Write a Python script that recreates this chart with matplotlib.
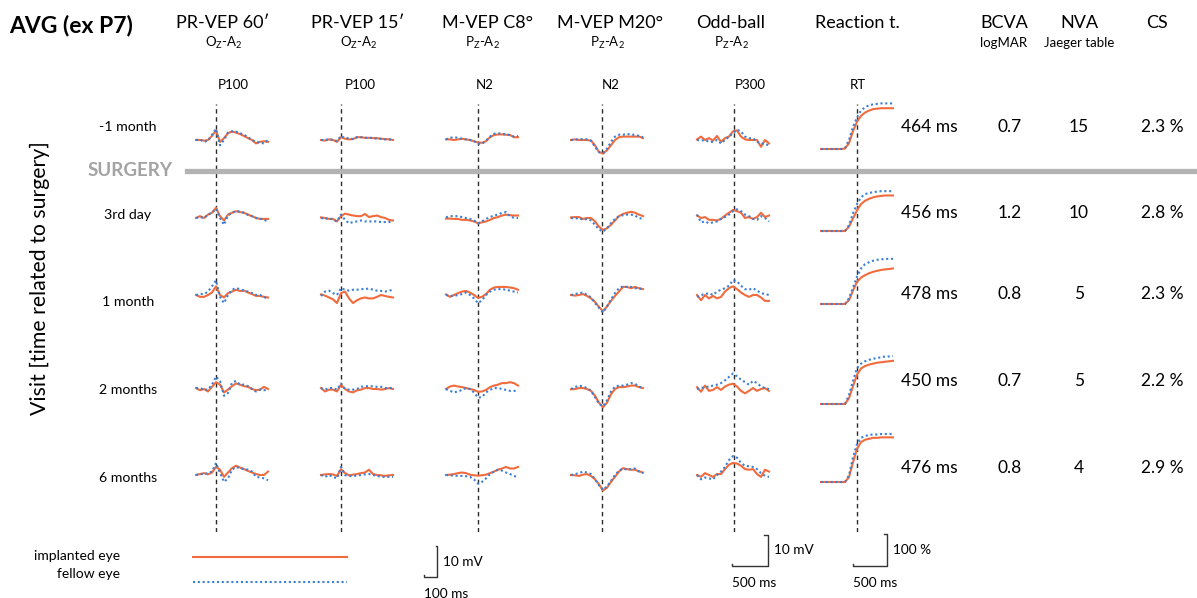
import numpy as np
import matplotlib.pyplot as plt
from matplotlib.lines import Line2D

plt.rcParams['font.family'] = ['Lato', 'DejaVu Sans']
plt.rcParams['mathtext.default'] = 'regular'

# ---------------- data ----------------
visits = ['-1 month', '3rd day', '1 month', '2 months', '6 months']
tests = ['PR-VEP 60′', 'PR-VEP 15′', 'M-VEP C8°', 'M-VEP M20°', 'Odd-ball', 'Reaction t.']
leads = ['O$_Z$-A$_2$', 'O$_Z$-A$_2$', 'P$_Z$-A$_2$', 'P$_Z$-A$_2$', 'P$_Z$-A$_2$', '']
peaks = ['P100', 'P100', 'N2', 'N2', 'P300', 'RT']
latency_ms = [100, 100, 190, 185, 320, 464]

# sampling grids (ms)
t_vep = np.arange(-50, 491, 30)
t_odd = np.arange(-200, 809, 56)
t_rt = np.arange(-60, 985, 58)

# amplitudes in mV, one list per visit
prvep60_implanted = [
    [0, 0, -0.2, 0, 1.3, 3.1, -0.6, 0.6, 2.2, 2.7, 2.4, 1.9, 1.3, 0.6, 0, -1.1, -0.6, -0.4, -0.6],
    [0, 0.6, 0, 1.1, 1.7, 3.3, 0.6, -0.8, 1.1, 1.7, 2.2, 1.9, 1.7, 1.1, 0.6, 0, -0.3, -0.3, -0.3],
    [0, -0.6, -0.6, 0, 0.8, 2.8, 0, -0.8, 0.6, 1.1, 1.7, 1.3, 1.4, 0.8, 0.3, -0.3, -0.3, -0.6, -0.8],
    [0.3, -0.4, 0, -0.8, 0.7, 2.2, 1.4, -1.1, -0.2, 0.9, 1.8, 1.4, 0.9, 0.7, 0, -0.4, -0.2, 0.7, 0],
    [0, 0.3, 0.6, 0.2, 0.8, 2.6, 1.7, -0.6, 0.8, 2.2, 3.0, 2.4, 1.9, 1.3, 0.8, 0.3, 0, 0, 1.1],
]
prvep60_fellow = [
    [0, 0.2, -0.6, -0.2, 1.7, 3.6, -1.7, 0, 2.4, 2.8, 2.7, 2.2, 1.7, 0.9, 0, -0.6, -0.9, -1.1, 0],
    [0, 0.3, 0, 1.1, 1.7, 3.0, 0, -2.2, 0.8, 1.7, 2.2, 2.1, 1.7, 1.0, 0.6, 0, -0.2, -0.6, -1.1],
    [0, 0.3, 0.3, 1.1, 2.8, 4.7, -0.6, -2.6, 0, 1.7, 2.2, 1.9, 1.4, 1.1, 0.6, 0, 0, -0.6, -1.4],
    [0.3, 0.3, -0.2, -0.2, 1.4, 4.0, 2.6, -2.2, -1.3, 2.0, 2.6, 1.4, 1.4, 0.9, 0, -0.8, -0.2, -0.4, -0.2],
    [0, 0.3, 0.3, 0.6, 1.1, 3.9, 0.6, -2.2, -1.1, 1.7, 2.6, 2.2, 1.9, 1.7, 1.1, -0.6, -0.8, -1.1, -1.7],
]
prvep15_implanted = [
    [0, -0.2, 0.2, 0, -0.6, 0.9, 0.4, 0.2, 0.3, 0.9, 0.9, 0.7, 0.7, 0.6, 0.6, 0.4, 0.3, 0.2, 0],
    [0.2, 0, -0.3, -0.3, -1.1, 0.6, 1.4, 1.1, 0.8, 0.6, 0.6, 1.3, 0.3, 0.6, 0.8, 0.3, 0, -0.6, -0.8],
    [0.2, -0.2, -0.8, -1.4, -2.6, 0.6, 1.1, -1.1, -2.6, -1.7, -1.1, -0.8, -1.1, -1.1, -0.6, 0, -0.3, -0.6, -0.8],
    [0.3, -0.8, -0.2, -0.2, -0.8, 1.4, 0, -0.8, -1.1, -0.4, -0.2, 0.3, 0.3, 0, 0, -0.2, 0, 0.3, 0],
    [0, 0.2, 0.3, 0.2, -0.3, 1.9, 0.6, -0.1, 0.1, 0.3, 0.6, 0.8, 1.7, 0.3, 0, -0.1, -0.3, -0.1, 0],
]
prvep15_fellow = [
    [0, 0, 0.3, 0, -0.3, 1.3, 0.6, 0.6, 0.3, 0.9, 0.9, 0.7, 0.7, 0.7, 0.4, 0.4, 0.2, 0.2, 0.2],
    [0, -0.3, 0, -0.6, -1.1, 1.1, -0.6, -1.7, -1.3, -1.1, -0.8, -1.1, -1.1, -1.1, -1.1, -1.3, -1.3, -1.3, -1.1],
    [-0.3, 1.1, 1.4, 0.6, 0, 2.2, 1.7, 1.4, 1.7, 1.7, 1.9, 1.9, 2.1, 1.7, 1.4, 1.3, 1.1, 1.4, 1.7],
    [0.3, -0.2, 0.3, 0.3, -0.2, 1.8, 0, -0.2, -0.2, 0, 0.7, 0.9, 0.9, 0.9, 0.7, 0.7, 0.3, 0.3, 0.3],
    [0, -0.6, 0, -0.6, -1.1, 2.6, 0, -0.3, -0.3, -0.2, 0, 0.2, 0.3, 0, -0.3, -0.6, -0.6, -0.6, -0.6],
]
mvep_c8_implanted = [
    [0.2, 0.2, 0, 0.2, 0.4, 0.2, 0, -0.4, -0.8, -0.9, -0.4, 0.9, 1.6, 1.8, 1.8, 1.7, 1.6, 0.9, 0.9],
    [-0.2, -0.2, -0.3, -0.3, -0.6, -0.6, -0.8, -1.1, -1.7, -1.4, -1.1, -0.6, 0, 0.3, 0.8, 1.1, 0.9, 0.8, 0.8],
    [0.2, -0.6, 0, 0.6, 1.1, 1.3, 0.8, 0, -0.9, -0.6, 0.3, 1.7, 2.4, 2.6, 2.6, 2.6, 2.4, 2.2, 1.7],
    [0, 0.8, 1.1, 0.8, 0.6, 0.3, 0, -0.3, -0.9, -0.8, -0.3, 0.6, 1.1, 1.4, 1.9, 1.9, 2.2, 1.9, 1.1],
    [0, 0.1, 0.3, 0.6, 0.8, 0.6, 0.1, -0.1, -0.2, -0.1, 0.1, 0.6, 1.1, 1.7, 2.1, 2.6, 2.1, 2.1, 2.6],
]
mvep_c8_fellow = [
    [0.2, 0.7, 0.9, 0.7, 0.4, 0.2, 0, -0.4, -1.1, -1.3, -0.2, 1.1, 2.0, 2.2, 2.0, 1.8, 1.6, 1.1, 1.3],
    [0.2, 0.6, 0.6, 0.6, 0.3, 0, -0.3, -0.8, -1.7, -1.1, -0.3, 0.3, 0.8, 1.1, 1.7, 1.9, 0.6, 0, 0],
    [0, -0.3, -0.3, 0, 0.3, 0.8, 0, -1.1, -2.6, -1.7, 0, 1.1, 1.7, 1.9, 1.9, 1.7, 1.4, 1.1, 0.8],
    [0, -0.6, -1.1, -0.8, -0.3, 0.3, 0, -1.1, -2.8, -2.6, -1.1, -0.3, 0.3, 0.3, 0, -0.3, -0.6, -0.6, -0.6],
    [0, -0.1, -0.2, -0.3, -0.3, -0.4, -0.6, -1.4, -2.8, -2.2, -1.1, 0.3, 1.1, 1.7, 1.4, 0.8, 0.3, -0.3, -0.8],
]
mvep_m20_implanted = [
    [0, 0.2, 0, 0, 0, -0.2, -1.7, -3.9, -4.4, -3.3, -1.7, 0, 0.9, 1.1, 1.1, 1.1, 1.1, 1.1, 0.6],
    [0.2, 0.3, 0.3, -0.3, 0, 0, -1.1, -2.8, -3.9, -3.3, -2.2, -0.8, 0.6, 1.3, 1.7, 2.0, 1.7, 1.1, 0.6],
    [0, -0.2, 0, 0.3, -0.3, -1.1, -2.2, -3.9, -5.2, -3.7, -1.9, -0.3, 1.1, 2.6, 2.6, 2.2, 2.6, 2.2, 1.9],
    [-0.1, 0, 0.3, 0.3, 0, -0.6, -2.2, -4.4, -5.9, -4.4, -1.7, 0, 0.6, 0.6, 0.8, 1.1, 1.1, 0.6, 0.3],
    [0, -0.1, -0.3, 0.1, 0.3, -0.3, -1.4, -3.0, -5.0, -4.1, -2.2, -0.6, 1.1, 2.2, 1.9, 1.7, 1.7, 1.2, 0.8],
]
mvep_m20_fellow = [
    [0, 0.2, 0.2, 0.3, 0.2, -0.2, -2.2, -3.9, -4.2, -2.8, -0.6, 1.1, 1.7, 1.7, 2.0, 1.7, 1.7, 1.3, 0.9],
    [0, -0.2, 0, -0.6, -0.3, -0.8, -2.2, -3.7, -4.4, -3.3, -1.7, -0.3, 0.6, 0.9, 1.1, 1.1, 0.8, 0, -0.3],
    [0, 0.3, 0.6, 0.8, 0, -0.8, -2.6, -4.1, -5.6, -3.7, -1.4, 0.6, 2.2, 2.8, 2.6, 2.6, 2.2, 2.2, 1.7],
    [0, 0.6, 1.1, 0.8, 0.3, -0.6, -2.6, -4.8, -5.6, -3.7, -0.8, 0.8, 1.1, 1.1, 1.4, 1.9, 1.7, 0.8, 0.3],
    [0, 0.3, 0.6, 1.1, 0.8, 0.3, -1.4, -3.3, -4.8, -3.7, -1.9, 0, 1.4, 2.1, 1.7, 1.9, 2.1, 1.1, 0.6],
]
oddball_implanted = [
    [0.2, 1.1, 0, 0.6, -0.2, 1.3, -0.6, 0.6, 1.1, 2.8, 3.1, 1.1, 0.2, 0, 0, 0, -2.2, 0, -1.1],
    [0.8, 0, 0.3, -0.6, -0.6, -0.8, -0.3, 0.8, 1.7, 2.6, 2.2, 1.7, 0, 0.3, -0.3, 0.3, 1.7, 0.3, 0.8],
    [0, -1.7, 0, -1.1, -0.3, -1.1, -0.6, 1.1, 2.2, 2.8, 1.9, 0.8, 0, -0.6, 0, 0, -0.8, -1.9, -1.9],
    [0.6, -0.9, 1.1, -0.6, -0.3, 0.6, -0.3, 0.8, 1.4, 1.7, 0.8, -0.6, -1.4, -0.6, 0.3, -0.6, 0, 0.3, -0.6],
    [0, -0.6, 0.6, 0, -0.6, 0.3, 0.3, 1.9, 3.3, 3.9, 3.7, 3.0, 1.9, 1.7, 1.9, 0.3, -0.6, 1.7, 1.1],
]
oddball_fellow = [
    [0, -0.2, 0, -0.6, -0.6, 0, -1.1, 0, 1.1, 2.2, 3.3, 2.8, 1.1, 0.6, 0.6, -0.6, -1.1, -1.3, -1.7],
    [1.1, -1.4, -1.1, -1.7, -1.4, -1.1, -0.3, 0.3, 1.1, 2.2, 2.8, 2.2, 1.1, 0.6, -0.3, -0.6, 0.6, 0, -1.1],
    [-0.6, 0, 0.3, 0.6, 0, 1.1, 1.7, 2.2, 3.0, 4.8, 4.4, 3.0, 1.9, 1.7, 2.2, 1.4, 0.6, 0.3, 0],
    [0, 0.3, 0.6, 0.8, 1.1, 1.4, 1.9, 2.8, 3.9, 5.0, 4.1, 3.0, 2.2, 1.4, 2.6, 1.9, 0.8, 0.3, 0],
    [0, -1.4, -0.8, -1.1, -1.4, 0, 1.1, 2.6, 4.8, 6.1, 5.6, 3.9, 3.0, 2.8, 2.6, 1.9, 0.6, -0.3, -0.6],
]
# cumulative reaction-time curves (%)
rt_implanted = [
    [0, 0, 0, 0, 0, 0, 1, 12, 37, 57, 69, 76, 80, 83, 84, 85, 85, 85, 85],
    [0, 0, 0, 0, 0, 0, 0, 9, 26, 43, 56, 63, 67, 70, 72, 73, 74, 74, 74],
    [0, 0, 0, 0, 0, 0, 0, 8, 28, 46, 55, 60, 64, 67, 69, 71, 72, 73, 74],
    [0, 0, 0, 0, 0, 0, 0, 12, 37, 61, 74, 79, 82, 84, 86, 87, 88, 89, 90],
    [0, 0, 0, 0, 0, 0, 0, 10, 41, 69, 83, 88, 90, 92, 92, 93, 93, 93, 93],
]
rt_fellow = [
    [0, 0, 0, 0, 0, 0, 2, 19, 46, 66, 80, 87, 91, 93, 94, 95, 95, 95, 95],
    [0, 0, 0, 0, 0, 0, 0, 12, 37, 56, 70, 77, 79, 81, 82, 83, 83, 83, 83],
    [0, 0, 0, 0, 0, 0, 0, 12, 34, 57, 74, 83, 87, 90, 92, 93, 94, 94, 94],
    [0, 0, 0, 0, 0, 0, 0, 19, 48, 75, 84, 89, 92, 94, 96, 97, 99, 99, 100],
    [0, 0, 0, 0, 0, 0, 0, 14, 52, 79, 92, 96, 98, 99, 99, 100, 100, 100, 100],
]
rt_ms = [464, 456, 478, 450, 476]
bcva = [0.7, 1.2, 0.8, 0.7, 0.8]
nva = [15, 10, 5, 5, 4]
cs = [2.3, 2.8, 2.3, 2.2, 2.9]

implanted = [prvep60_implanted, prvep15_implanted, mvep_c8_implanted,
             mvep_m20_implanted, oddball_implanted, rt_implanted]
fellow = [prvep60_fellow, prvep15_fellow, mvep_c8_fellow,
          mvep_m20_fellow, oddball_fellow, rt_fellow]
times = [t_vep, t_vep, t_vep, t_vep, t_odd, t_rt]

# ---------------- layout (pixels) ----------------
W, H = 1197, 598
fig = plt.figure(figsize=(W / 100, H / 100), dpi=100)
ORANGE = '#f26b3c'
BLUE = '#3a7fd6'
DASH = '#2b2b2b'

col_left = [196, 321, 446, 571, 697, 821]
col_w = 72
head_x = [223, 358, 488, 610, 731, 857]
sub_x = [224, 359, 482, 607, 731, 857]
peak_x = [233, 360, 485, 611, 750, 858]
row_base = [140, 218, 295, 389, 475]
rt_bottom = [149, 231, 304, 404, 482]
row_text_y = [127, 213, 294, 381, 468]
label_y = [127, 215, 302, 390, 478]
PX_MV = 3.1
RT_H = 48
MV_LIM = 12


def fx(x):
    return x / W


def fy(y):
    return 1 - y / H


def px_axes(left, top, width, height, xlim, ylim):
    ax = fig.add_axes([left / W, 1 - (top + height) / H, width / W, height / H])
    ax.set_xlim(*xlim)
    ax.set_ylim(*ylim)
    ax.axis('off')
    ax.patch.set_alpha(0)
    return ax


# dashed latency markers
for c in range(6):
    t = times[c]
    ax = px_axes(col_left[c], 104, col_w, 428, (t[0], t[-1]), (0, 1))
    ax.axvline(latency_ms[c], color=DASH, lw=1.0, ls=(0, (3.2, 2.6)))

# surgery bar
fig.add_artist(Line2D([fx(187), fx(1197)], [fy(171), fy(171)], color='#b3b3b3', lw=3.8))
fig.text(fx(130), fy(171), 'SURGERY', color='#a3a3a3', fontsize=13.5,
         fontweight='bold', ha='center', va='center')

# traces
for c in range(6):
    t = times[c]
    for r in range(5):
        if c < 5:
            h = 2 * MV_LIM * PX_MV
            ax = px_axes(col_left[c], row_base[r] - h / 2, col_w, h,
                         (t[0], t[-1]), (-MV_LIM, MV_LIM))
        else:
            ax = px_axes(col_left[c], rt_bottom[r] - RT_H, col_w, RT_H,
                         (t[0], t[-1]), (0, 100))
        ax.plot(t, implanted[c][r], color=ORANGE, lw=1.5, clip_on=False,
                solid_joinstyle='round')
        ax.plot(t, fellow[c][r], color=BLUE, lw=1.5, ls=(0, (1, 1.3)),
                clip_on=False)

# titles and headers
fig.text(fx(9), fy(25), 'AVG (ex P7)', fontsize=16.5, fontweight='bold',
         ha='left', va='center')
for c in range(6):
    fig.text(fx(head_x[c]), fy(23), tests[c], fontsize=13, ha='center', va='center')
    if leads[c]:
        fig.text(fx(sub_x[c]), fy(43), leads[c], fontsize=9.5, ha='center', va='center')
    fig.text(fx(peak_x[c]), fy(85), peaks[c], fontsize=9.5, ha='center', va='center')

for name, sub, x in [('BCVA', 'logMAR', 1004), ('NVA', 'Jaeger table', 1079),
                     ('CS', None, 1157)]:
    fig.text(fx(x), fy(23), name, fontsize=13, ha='center', va='center')
    if sub:
        fig.text(fx(x), fy(43), sub, fontsize=9.5, ha='center', va='center')

# row labels and values
for r in range(5):
    fig.text(fx(128), fy(label_y[r]), visits[r], fontsize=10.2, ha='center', va='center')
    fig.text(fx(901), fy(row_text_y[r]), f'{rt_ms[r]} ms', fontsize=12.5,
             ha='left', va='center')
    fig.text(fx(1010), fy(row_text_y[r]), f'{bcva[r]:.1f}', fontsize=12.5,
             ha='center', va='center')
    fig.text(fx(1079), fy(row_text_y[r]), f'{nva[r]}', fontsize=12.5,
             ha='center', va='center')
    fig.text(fx(1162), fy(row_text_y[r]), f'{cs[r]:.1f} %', fontsize=12.5,
             ha='center', va='center')

fig.text(fx(40), fy(278), 'Visit [time related to surgery]', fontsize=15.3,
         rotation=90, ha='center', va='center')

# legend
fig.add_artist(Line2D([fx(193), fx(347)], [fy(557), fy(557)], color=ORANGE, lw=1.5))
fig.add_artist(Line2D([fx(193), fx(347)], [fy(582), fy(582)], color=BLUE, lw=1.5,
                      ls=(0, (1, 1.3))))
fig.text(fx(120), fy(556), 'implanted eye', fontsize=10, ha='right', va='center')
fig.text(fx(120), fy(574), 'fellow eye', fontsize=10, ha='right', va='center')


# scale bars
def scale_bar(right, bottom, c, dx, dy, yh, xlabel, ylabel):
    t = times[c]
    pxms = col_w / (t[-1] - t[0])
    wpx = dx * pxms
    ax = px_axes(right - wpx, bottom - yh, wpx, yh, (0, dx), (0, dy))
    tx, ty = 0.1 * dx, 0.06 * dy
    ax.plot([0, 0, dx, dx, dx - tx], [ty, 0, 0, dy, dy], color='#333333',
            lw=1.0, clip_on=False)
    fig.text(fx(right + 6), fy(bottom - yh / 2), ylabel, fontsize=9.8,
             ha='left', va='center')
    fig.text(fx(right - wpx), fy(bottom + 17), xlabel, fontsize=9.8,
             ha='left', va='center')


scale_bar(437, 577, 0, 100, 10, 10 * PX_MV, '100 ms', '10 mV')
scale_bar(768, 566, 4, 500, 10, 10 * PX_MV, '500 ms', '10 mV')
scale_bar(887, 566, 5, 500, 100, 32, '500 ms', '100 %')

fig.savefig('out.png', dpi=100)
